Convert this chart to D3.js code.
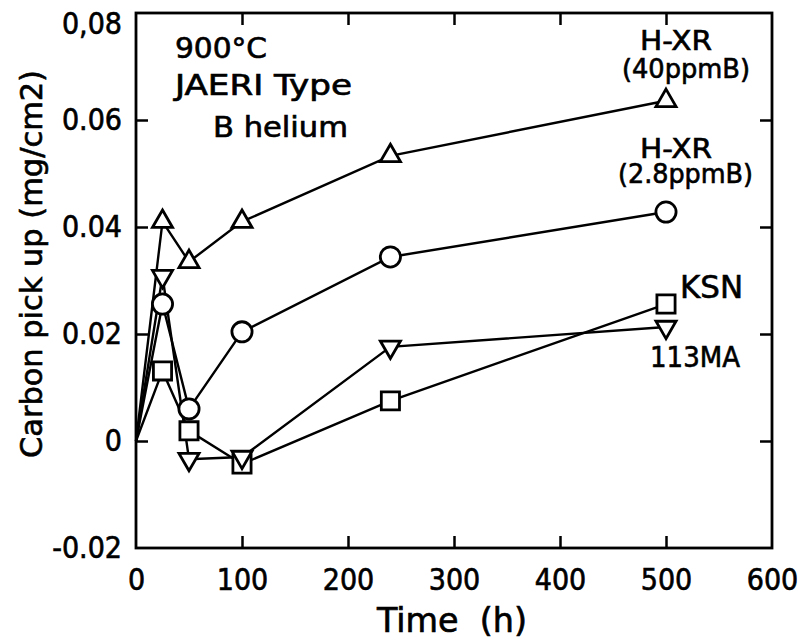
<!DOCTYPE html>
<html>
<head>
<meta charset="utf-8">
<script src="https://cdn.jsdelivr.net/npm/d3@7"></script>
<style>
  body { margin: 0; background: #fff; }
  text { font-family: 'DejaVu Sans Condensed', 'DejaVu Sans', sans-serif; fill: #000; stroke: #000; stroke-width: 0.6px; }
</style>
</head>
<body>
<div id="chart"></div>
<script>
// time (h) for every series
const hours = [0, 25, 50, 100, 240, 500];

// carbon pick up (mg/cm2)
const hxr40 = [0, 0.041, 0.0335, 0.041, 0.0533, 0.0636];
const hxr28 = [0, 0.0256, 0.006, 0.0204, 0.0344, 0.0428];
const ksn = [0, 0.0131, 0.0019, -0.0043, 0.0075, 0.0256];
const ma113 = [0, 0.0308, -0.0034, -0.003, 0.0176, 0.0213];

const xTicks = [0, 100, 200, 300, 400, 500, 600];
const yTicks = [-0.02, 0, 0.02, 0.04, 0.06, 0.08];
const yTickLabels = ['-0.02', '0', '0.02', '0.04', '0.06', '0,08'];

const series = [
  { name: 'H-XR (40ppmB)', values: hxr40, marker: 'up' },
  { name: 'H-XR (2.8ppmB)', values: hxr28, marker: 'circle' },
  { name: 'KSN', values: ksn, marker: 'square' },
  { name: '113MA', values: ma113, marker: 'down' },
];

const width = 798;
const height = 642;
const margin = { top: 13, right: 26, bottom: 94, left: 136 };
const innerWidth = width - margin.left - margin.right;
const innerHeight = height - margin.top - margin.bottom;

const svg = d3
  .select('#chart')
  .append('svg')
  .attr('width', width)
  .attr('height', height);

svg.append('rect').attr('width', width).attr('height', height).attr('fill', '#fff');

const chart = svg.append('g').attr('transform', `translate(${margin.left},${margin.top})`);

const x = d3.scaleLinear().domain([0, 600]).range([0, innerWidth]);
const y = d3.scaleLinear().domain([-0.02, 0.08]).range([innerHeight, 0]);

// axes: inward ticks, labels only bottom and left
const tickLen = 12;
const inner = (v, lo, hi) => v > lo && v < hi;

chart
  .append('g')
  .attr('transform', `translate(0,${innerHeight})`)
  .call(
    d3.axisBottom(x).tickValues(xTicks).tickSizeInner(-tickLen).tickSizeOuter(0).tickPadding(21)
  )
  .call((g) => g.select('.domain').remove())
  .call((g) => g.selectAll('line').attr('opacity', (d) => (inner(d, 0, 600) ? 1 : 0)))
  .call((g) => g.selectAll('text').style('font-size', '30px'));

chart
  .append('g')
  .call(d3.axisTop(x).tickValues(xTicks.filter((d) => inner(d, 0, 600))).tickSizeInner(-tickLen).tickSizeOuter(0).tickFormat(''))
  .call((g) => g.select('.domain').remove());

chart
  .append('g')
  .call(
    d3
      .axisLeft(y)
      .tickValues(yTicks)
      .tickSizeInner(-tickLen)
      .tickSizeOuter(0)
      .tickPadding(14)
      .tickFormat((d, i) => yTickLabels[i])
  )
  .call((g) => g.select('.domain').remove())
  .call((g) => g.selectAll('line').attr('opacity', (d) => (inner(d, -0.02, 0.08) ? 1 : 0)))
  .call((g) =>
    g
      .selectAll('text')
      .style('font-size', '30px')
      .attr('dy', (d) => (d === 0.08 ? '0.68em' : '0.32em'))
  );

chart
  .append('g')
  .attr('transform', `translate(${innerWidth},0)`)
  .call(d3.axisRight(y).tickValues(yTicks.filter((d) => inner(d, -0.02, 0.08))).tickSizeInner(-tickLen).tickSizeOuter(0).tickFormat(''))
  .call((g) => g.select('.domain').remove());

chart.selectAll('.tick line').attr('stroke', '#000').attr('stroke-width', 2.5);

chart
  .append('rect')
  .attr('width', innerWidth)
  .attr('height', innerHeight)
  .attr('fill', 'none')
  .attr('stroke', '#000')
  .attr('stroke-width', 2.8);

// lines
const line = d3
  .line()
  .x((d) => x(d[0]))
  .y((d) => y(d[1]));

series.forEach((s) => {
  s.points = hours.map((h, i) => [h, s.values[i]]);
});

chart
  .append('g')
  .selectAll('path')
  .data(series)
  .join('path')
  .attr('d', (s) => line(s.points))
  .attr('fill', 'none')
  .attr('stroke', '#000')
  .attr('stroke-width', 2.4);

// markers (skip the origin point)
const symbols = {
  up: d3.symbol(d3.symbolTriangle, 175),
  down: d3.symbol(d3.symbolTriangle, 175),
  circle: d3.symbol(d3.symbolCircle, 320),
  square: d3.symbol(d3.symbolSquare, 330),
};

series.forEach((s) => {
  chart
    .append('g')
    .selectAll('path')
    .data(s.points.slice(1))
    .join('path')
    .attr('d', symbols[s.marker]())
    .attr('transform', (d) => `translate(${x(d[0])},${y(d[1])})${s.marker === 'down' ? ' rotate(180)' : ''}`)
    .attr('fill', '#fff')
    .attr('stroke', '#000')
    .attr('stroke-width', 2.8);
});

// annotations
const notes = [
  { text: '900°C', x: 175, y: 58, size: 28, len: 92 },
  { text: 'JAERI Type', x: 175, y: 95, size: 28, len: 177 },
  { text: 'B helium', x: 213, y: 137, size: 28, len: 135 },
  { text: 'H-XR', x: 640, y: 50, size: 27, len: 72 },
  { text: '(40ppmB)', x: 622, y: 78, size: 27, len: 128 },
  { text: 'H-XR', x: 640, y: 158, size: 27, len: 72 },
  { text: '(2.8ppmB)', x: 618, y: 183, size: 27, len: 135 },
  { text: 'KSN', x: 680, y: 298, size: 32, len: 63 },
  { text: '113MA', x: 650, y: 367, size: 29, len: 90 },
  { text: 'Time  (h)', x: 377, y: 632, size: 33, len: 150 },
];

svg
  .append('g')
  .selectAll('text')
  .data(notes)
  .join('text')
  .attr('x', (d) => d.x)
  .attr('y', (d) => d.y)
  .attr('textLength', (d) => d.len)
  .attr('lengthAdjust', 'spacingAndGlyphs')
  .style('font-size', (d) => `${d.size}px`)
  .style('white-space', 'pre')
  .text((d) => d.text);

svg
  .append('text')
  .attr('transform', 'translate(42,458) rotate(-90)')
  .attr('textLength', 388)
  .attr('lengthAdjust', 'spacingAndGlyphs')
  .style('font-size', '31px')
  .text('Carbon pick up (mg/cm2)');
</script>
</body>
</html>
